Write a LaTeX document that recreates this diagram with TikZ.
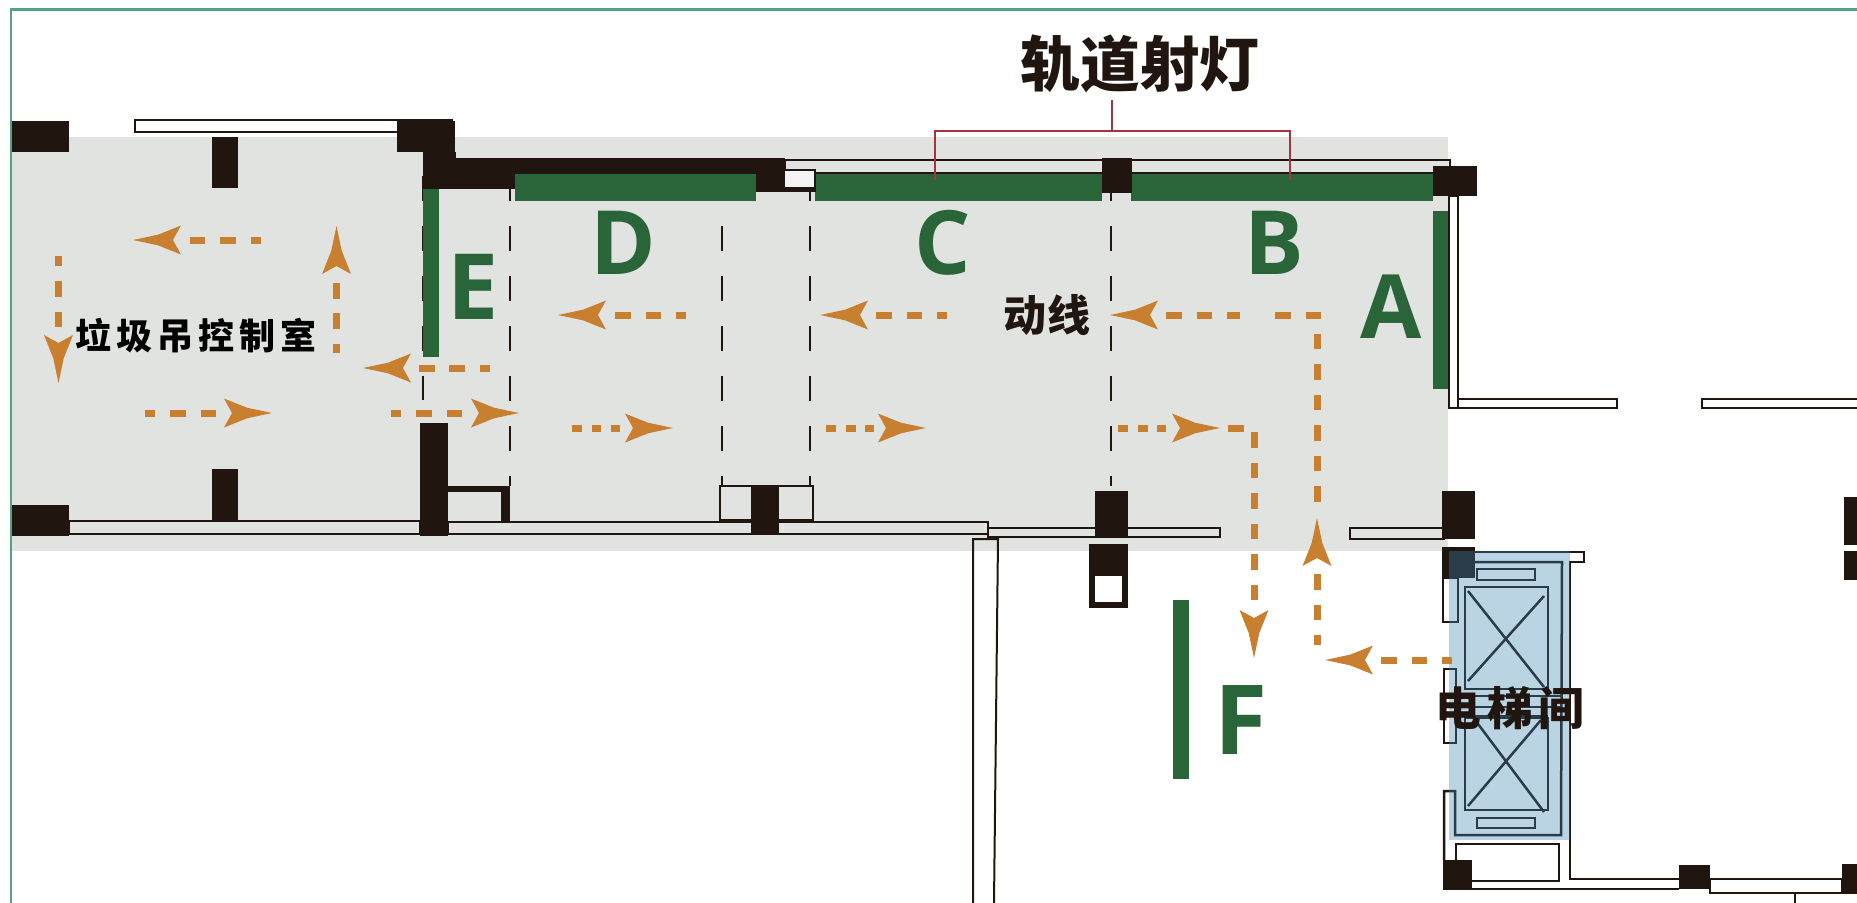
\documentclass[tikz,border=0pt]{standalone}
\usepackage{fontspec}
\usepackage{tikz}
\newfontfamily\cjk{Noto Sans CJK SC}
\newfontfamily\cjkheavy{Noto Sans CJK SC Black}
\newfontfamily\zonefont{Open Sans}
\definecolor{planblack}{RGB}{32,21,15}
\definecolor{plangray}{RGB}{224,227,224}
\definecolor{zonegreen}{RGB}{42,101,57}
\definecolor{flowgold}{RGB}{201,127,48}
\definecolor{framegreen}{RGB}{79,165,133}
\definecolor{trackred}{RGB}{165,52,63}
\definecolor{liftblue}{RGB}{61,133,179}

\begin{document}
\begin{tikzpicture}[
    x=0.02cm, y=-0.02cm,
    wall/.style={draw=planblack, line width=0.04cm},
    glass/.style={wall, fill=white},
    shaft/.style={draw=planblack, line width=0.05cm},
    post/.style={fill=planblack},
    lamp/.style={fill=zonegreen},
    axis/.style={draw=planblack, line width=0.04cm, dash pattern=on 0.5cm off 0.5cm},
    flow/.style={draw=flowgold, line width=0.14cm, dash pattern=on 0.31cm off 0.3cm},
    dots/.style={draw=flowgold, line width=0.14cm, dash pattern=on 0.2cm off 0.19cm},
    zone/.style={text=zonegreen, inner sep=0pt, font=\zonefont\bfseries\fontsize{50.5}{50.5}\selectfont},
    tag/.style={text=planblack, inner sep=0pt, font=\cjk\bfseries},
    pics/head/.style={code={
        \fill[flowgold] (0,0) -- (-25,-5.3) -- (-48,-14.5) -- (-40,0) -- (-48,14.5) -- (-25,5.3) -- cycle;
    }}
]
\useasboundingbox (0,0) rectangle (1857,903);

% floor and frame
\fill[plangray] (11,137) rectangle (1448,551);
\draw[framegreen, line width=0.06cm] (1857,9.5) -- (11,9.5) -- (11,903);

% dashed axes
\foreach \x/\yb in {423/400, 510/486, 722/486, 810/486, 1111/486}
    \draw[axis] (\x,176) -- (\x,\yb);

% lamps
\fill[lamp] (515,174) rectangle (756,201);
\fill[lamp] (815,174) rectangle (1102,201);
\fill[lamp] (1131,174) rectangle (1433,201);
\fill[lamp] (423,188) rectangle (439,357);
\fill[lamp] (1433,211) rectangle (1449,389);
\fill[lamp] (1173,600) rectangle (1189,779);

% walls
\draw[glass] (135,120) rectangle (452,132);
\draw[wall] (69,521) rectangle (420,534);
\draw[wall] (448,522) rectangle (988,534);
\draw[wall] (988,528) rectangle (1220,537);
\draw[wall] (785,160) rectangle (1450,173);
\draw[wall] (720,486) rectangle (813,520);
\draw[glass] (1449,196) rectangle (1458,408);
\draw[glass] (1458,399) rectangle (1617,408);
\draw[glass] (1702,399) rectangle (1860,408);
\draw[wall] (1350,528) rectangle (1444,539);
\draw[wall] (973,903) -- (973,539) -- (998,539) -- (994,903);

% posts
\fill[post] (12,121) rectangle (69,152);
\fill[post] (397,121) rectangle (455,152);
\fill[post] (423,152) rectangle (456,189);
\fill[post] (456,158) rectangle (515,189);
\fill[post] (515,158) rectangle (785,174);
\fill[post] (756,174) rectangle (785,192);
\fill[post] (212,137) rectangle (238,188);
\fill[post] (12,505) rectangle (69,536);
\fill[post] (212,469) rectangle (238,521);
\fill[post] (420,423) rectangle (448,536);
\fill[post] (448,486) rectangle (510,492);
\fill[post] (501,492) rectangle (510,523);
\fill[post] (751,486) rectangle (779,535);
\fill[post] (1095,491) rectangle (1128,538);
\fill[post] (1089,544) rectangle (1128,608);
\fill[white] (1095,576) rectangle (1122,602);
\fill[post] (1102,158) rectangle (1132,193);
\fill[post] (1433,166) rectangle (1477,196);
\fill[post] (1442,491) rectangle (1475,539);
\fill[post] (1844,497) rectangle (1857,545);
\fill[post] (1844,551) rectangle (1857,580);
\fill[post] (785,169) rectangle (816,192);
\fill[plangray!40!white] (785,171) rectangle (814,187);

% lift core
\fill[post] (1442,547) rectangle (1475,578);
\draw[glass] (1443,578) rectangle (1458,622);
\draw[glass] (1444,669) rectangle (1456,743);
\draw[wall] (1475,552) -- (1584,552) -- (1584,562) -- (1570,562) -- (1570,879) -- (1679,879);
\draw[shaft] (1444,860) -- (1444,791) -- (1455,791) -- (1455,835) -- (1561,835) -- (1562,562) -- (1458,562);
\draw[shaft] (1456,844) rectangle (1559,881);
\draw[wall] (1471,889) -- (1679,889);
\draw[wall] (1710,879) rectangle (1842,893);
\draw[wall] (1794.5,893) -- (1794.5,903);
\draw[shaft] (1477,569) rectangle (1535,580);
\draw[shaft] (1477,818) rectangle (1535,828);
\draw[shaft] (1465,587) rectangle (1548,689);
\draw[shaft] (1465,718) rectangle (1548,810);
\draw[shaft] (1468,591) -- (1544,687);
\draw[shaft] (1544,596) -- (1468,681);
\draw[shaft] (1475,720) -- (1544,812);
\draw[shaft] (1541,720) -- (1468,806);
\draw[shaft] (1458,696) -- (1561,696);
\draw[shaft] (1456,707) -- (1561,707);
\draw[shaft] (1465,716) -- (1548,716);
\fill[post] (1443,860) rectangle (1472,890);
\fill[post] (1679,865) rectangle (1710,889);
\fill[post] (1842,864) rectangle (1857,894);
\fill[liftblue, opacity=0.35] (1449,551) rectangle (1570,840);

% track bracket
\draw[trackred, line width=0.03cm] (935,180) -- (935,131) -- (1290,131) -- (1290,180);
\coordinate (trackTop) at (1112,100);
\draw[trackred, line width=0.03cm] (trackTop) -- (1112,131);

% flow dashes, drawn from the head backwards
\draw[flow] (190,240) -- (261,240);
\draw[flow] (336.5,283) -- (336.5,353);
\draw[flow] (58.5,327) -- (58.5,256);
\draw[flow] (216,413) -- (145,413);
\draw[flow] (462,413) -- (391,413);
\draw[flow] (419,368) -- (490,368);
\draw[flow] (615,315) -- (686,315);
\draw[flow] (876,315) -- (947,315);
\draw[flow] (1166,315) -- (1240,315);
\draw[flow] (1275,315) -- (1317,315) -- (1317,503);
\draw[flow] (1317,574) -- (1317,645);
\draw[flow] (1381,660) -- (1452,660);
\draw[dots] (572,428) -- (620,428);
\draw[dots] (826,428) -- (874,428);
\draw[dots] (1118,428) -- (1166,428);
\draw[flow] (1228,428) -- (1254,428) -- (1254,604);

% flow heads
\pic[rotate=180] at (133,240) {head};
\pic[rotate=90] at (336.5,226) {head};
\pic[rotate=-90] at (58.5,383) {head};
\pic at (272,413) {head};
\pic at (519,413) {head};
\pic[rotate=180] at (363,368) {head};
\pic[rotate=180] at (558,315) {head};
\pic[rotate=180] at (820,315) {head};
\pic[rotate=180] at (1110,315) {head};
\pic[rotate=90] at (1317,518) {head};
\pic[rotate=180] at (1325,660) {head};
\pic at (673,428) {head};
\pic at (926,428) {head};
\pic at (1220,428) {head};
\pic[rotate=-90] at (1254,658) {head};

% labels
\node[zone] (zoneA) at (1391,307) {A};
\node[zone] (zoneB) at (1274,243) {B};
\node[zone] (zoneC) at (943,243) {C};
\node[zone] (zoneD) at (623,243) {D};
\node[zone, font=\zonefont\bfseries\fontsize{52}{52}\selectfont] (zoneE) at (473,287) {E};
\node[zone, font=\zonefont\bfseries\fontsize{55}{55}\selectfont] (zoneF) at (1241,720) {F};
\node[tag, font=\cjkheavy\fontsize{34}{34}\selectfont] (trackLabel) at (1140,64) {轨道射灯};
\node[tag, font=\cjk\bfseries\fontsize{24.5}{24.5}\selectfont] (flowLabel) at (1047,315) {动线};
\node[tag, text=black, font=\cjk\bfseries\fontsize{20.5}{20.5}\selectfont] (craneLabel) at (196,336) {垃\hspace{2.8pt}圾\hspace{2.8pt}吊\hspace{2.8pt}控\hspace{2.8pt}制\hspace{2.8pt}室};
\node[tag, font=\cjk\bfseries\fontsize{26}{26}\selectfont] (liftLabel) at (1510,708) {电\hspace{3.3pt}梯\hspace{3.3pt}间};
\end{tikzpicture}
\end{document}
